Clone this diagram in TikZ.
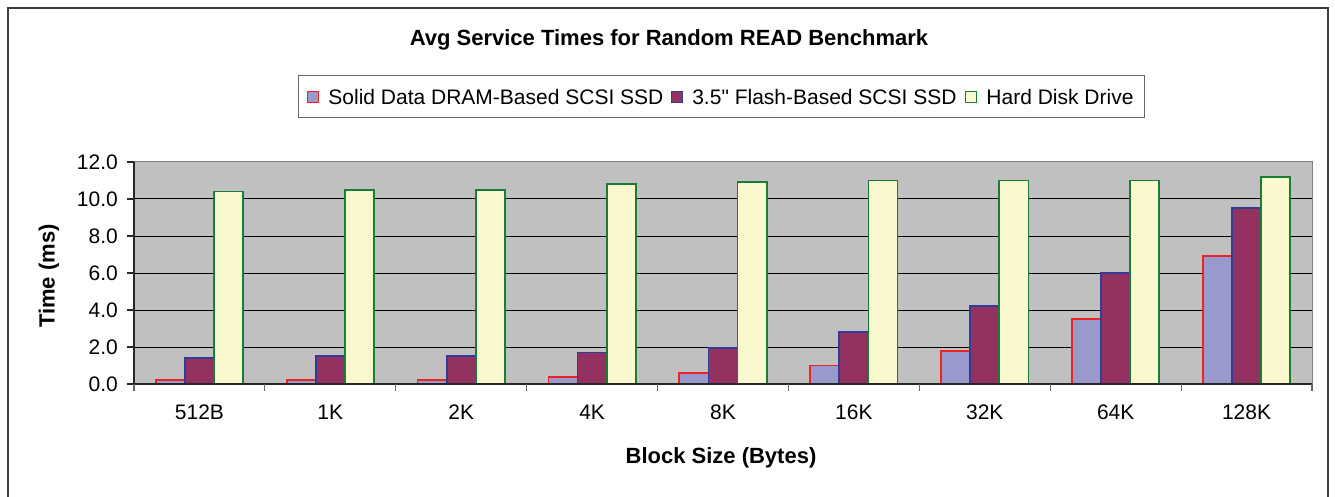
\documentclass[tikz,border=0pt]{standalone}
\usepackage{fontspec}
\setmainfont{Liberation Sans}[Ligatures=TeXOff]
\definecolor{plotbg}{RGB}{192,192,192}
\definecolor{framec}{RGB}{60,60,60}
\definecolor{fillA}{RGB}{153,153,204}
\definecolor{edgeA}{RGB}{235,35,35}
\definecolor{fillB}{RGB}{147,50,97}
\definecolor{edgeB}{RGB}{50,60,150}
\definecolor{fillC}{RGB}{250,248,206}
\definecolor{edgeC}{RGB}{25,125,55}
\tikzset{
  barA/.style={fill=fillA,draw=edgeA,line width=1.8pt},
  barB/.style={fill=fillB,draw=edgeB,line width=1.8pt},
  barC/.style={fill=fillC,draw=edgeC,line width=1.8pt},
  lab/.style={font=\fontsize{21}{25}\selectfont,inner sep=0pt},
  boldlab/.style={font=\fontsize{22}{26}\selectfont\bfseries,inner sep=0pt},
  legsq/.style={minimum width=11pt,minimum height=11pt,inner sep=0pt,line width=1.5pt}
}
\begin{document}
\begin{tikzpicture}[x=1pt,y=-1pt]
\useasboundingbox (0,0) rectangle (1335,497);
\fill[white] (0,0) rectangle (1335,497);
% outer frame
\draw[framec,line width=2pt] (8,510) -- (8,8) -- (1328,8) -- (1328,510);
% title
\node[boldlab] (title) at (669,40) {Avg Service Times for Random READ Benchmark};
% legend
\node[legsq,fill=fillA,draw=edgeA] (s1) at (313,97) {};
\node[lab,anchor=west] (t1) at ([xshift=9pt]s1.east) {Solid Data DRAM-Based SCSI SSD};
\node[legsq,fill=fillB,draw=edgeB,anchor=west] (s2) at ([xshift=7pt]t1.east) {};
\node[lab,anchor=west] (t2) at ([xshift=9pt]s2.east) {3.5" Flash-Based SCSI SSD};
\node[legsq,fill=fillC,draw=edgeC,anchor=west] (s3) at ([xshift=8pt]t2.east) {};
\node[lab,anchor=west] (t3) at ([xshift=9pt]s3.east) {Hard Disk Drive};
\coordinate (lr) at ([xshift=11pt]t3.east);
\coordinate (lb) at (0,118);
\draw[gray!80!black,line width=1pt] (298,76) rectangle (lr |- lb);
% plot area
\fill[plotbg] (134,162) rectangle (1312,384);
\draw[gray,line width=1pt] (134,162) -- (1312,162) -- (1312,384);
\foreach \k in {1,...,5}
  \draw[black,line width=1pt] (134,{384-37*\k}) -- (1312,{384-37*\k});
% bars
\foreach \ra/\rb/\rc [count=\c from 0] in {0.2/1.4/10.4,0.2/1.5/10.5,0.2/1.5/10.5,0.4/1.7/10.8,0.6/1.95/10.9,1.0/2.8/11.0,1.8/4.2/11.0,3.5/6.0/11.0,6.9/9.5/11.2}{
  \pgfmathsetmacro{\xa}{134+\c*130.889+0.75*29.086}
  \draw[barA] (\xa,384) rectangle ({\xa+29.086},{384-18.5*\ra});
  \draw[barB] ({\xa+29.086},384) rectangle ({\xa+2*29.086},{384-18.5*\rb});
  \draw[barC] ({\xa+2*29.086},384) rectangle ({\xa+3*29.086},{384-18.5*\rc});
}
% axes
\draw[black!85,line width=1.2pt] (134,162) -- (134,384) -- (1312,384);
\foreach \v [count=\k from 0] in {0.0,2.0,4.0,6.0,8.0,10.0,12.0}{
  \draw[black!85,line width=1.2pt] (127,{384-37*\k}) -- (134,{384-37*\k});
  \node[lab,anchor=east] (yl\k) at (118,{384-37*\k}) {\v};
}
\foreach \c in {0,...,9}
  \draw[black!60,line width=1.2pt] ({134+\c*130.889},384) -- ({134+\c*130.889},391);
\foreach \n [count=\c from 0] in {512B,1K,2K,4K,8K,16K,32K,64K,128K}
  \node[lab] (xl\c) at ({134+(\c+0.5)*130.889},412) {\n};
% axis titles
\node[boldlab,rotate=90] (ytitle) at (49,276) {Time (ms)};
\node[boldlab] (xtitle) at (721,458) {Block Size (Bytes)};
\end{tikzpicture}
\end{document}
